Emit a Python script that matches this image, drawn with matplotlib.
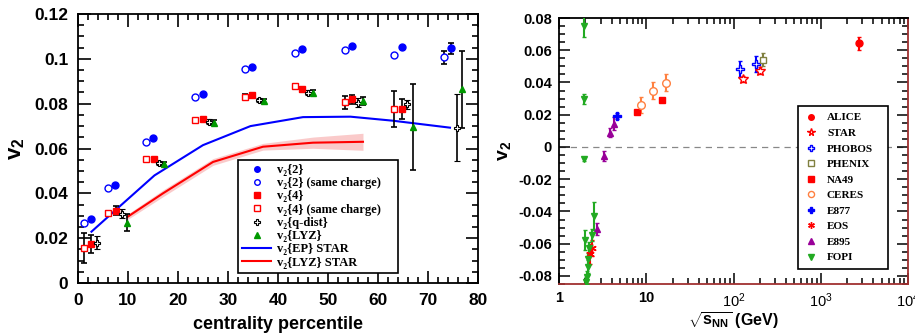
import matplotlib
matplotlib.use("Agg")
import matplotlib.pyplot as plt
from matplotlib.ticker import MultipleLocator, LogLocator, NullFormatter
import numpy as np

plt.rcParams.update({
    "font.family": "Liberation Sans",
    "mathtext.fontset": "custom",
    "mathtext.rm": "Liberation Sans",
    "mathtext.bf": "Liberation Sans:bold",
    "mathtext.it": "Liberation Sans:italic",
})

# ---- left panel: v2 vs centrality ----
cent_v22 = [2.7, 7.5, 15.0, 25.1, 34.9, 44.9, 54.9, 64.8, 74.7]
v22 = [0.0285, 0.0437, 0.0647, 0.0843, 0.0965, 0.1042, 0.1057, 0.1051, 0.1047]
v22_err = [0, 0, 0, 0, 0, 0, 0, 0, 0.0025]

cent_v22sc = [1.2, 6.1, 13.7, 23.4, 33.4, 43.4, 53.4, 63.3, 73.2]
v22sc = [0.0269, 0.0422, 0.0630, 0.0831, 0.0953, 0.1027, 0.1039, 0.1017, 0.1007]
v22sc_err = [0, 0, 0, 0, 0, 0, 0, 0, 0.003]

cent_v24 = [2.7, 7.7, 15.2, 25.1, 34.9, 44.9, 54.9, 64.9]
v24 = [0.0174, 0.0322, 0.0555, 0.0730, 0.0837, 0.0864, 0.0819, 0.0775]
v24_err = [0.004, 0.002, 0, 0, 0.001, 0.001, 0.0021, 0.0044]

cent_v24sc = [1.2, 6.0, 13.6, 23.4, 33.4, 43.4, 53.4, 63.3]
v24sc = [0.0155, 0.0311, 0.0555, 0.0727, 0.0831, 0.0879, 0.0806, 0.0775]
v24sc_err = [0.0067, 0.001, 0, 0, 0.001, 0.001, 0.0028, 0.0081]

cent_q = [3.9, 8.9, 16.3, 26.3, 36.2, 46.1, 56.1, 65.9, 75.9]
v2q = [0.0180, 0.0310, 0.0536, 0.0720, 0.0816, 0.0849, 0.0804, 0.0798, 0.0693]
v2q_err = [0.0028, 0.002, 0.001, 0.001, 0.001, 0.001, 0.002, 0.002, 0.0148]

cent_lyz = [9.9, 17.3, 27.3, 37.2, 47.1, 57.1, 67.1, 76.9]
v2lyz = [0.0269, 0.0530, 0.0715, 0.0813, 0.0849, 0.0812, 0.0694, 0.0864]
v2lyz_err = [0.0037, 0.001, 0.001, 0.001, 0.001, 0.002, 0.0192, 0.0171]

cent_ep_star = [2.7, 7.7, 15.3, 25.0, 34.5, 45.0, 54.5, 63.0, 74.4]
v2ep_star = [0.0229, 0.0329, 0.0480, 0.0615, 0.0700, 0.0740, 0.0742, 0.0724, 0.0693]

cent_lyz_star = [9.9, 17.0, 27.0, 37.0, 47.0, 57.0]
v2lyz_star = [0.0295, 0.0400, 0.0540, 0.0608, 0.0626, 0.0630]
v2lyz_star_band = [0.0012, 0.0015, 0.0015, 0.0015, 0.0025, 0.0038]

# ---- right panel: v2 vs sqrt(s_NN) ----
alice_s, alice_v, alice_e = [2760], [0.0643], [0.004]
star_s, star_v, star_e = [128, 199], [0.0422, 0.0473], [0.002, 0.002]
phobos_s, phobos_v, phobos_e = [118, 182], [0.0482, 0.0513], [0.005, 0.005]
phenix_s, phenix_v, phenix_e = [217], [0.0540], [0.004]
na49_s, na49_v, na49_e = [7.9, 15.2], [0.0219, 0.0291], [0.001, 0.001]
ceres_s, ceres_v, ceres_e = [8.7, 12.0, 16.8], [0.0260, 0.0349, 0.0399], [0.005, 0.0054, 0.0052]
e877_s, e877_v, e877_e = [4.65], [0.0192], [0.002]
eos_s, eos_v, eos_e = [2.28, 2.36], [-0.0665, -0.0625], [0.006, 0.005]
e895_s = [2.7, 3.3, 3.83, 4.25]
e895_v = [-0.0509, -0.0056, 0.0089, 0.0143]
e895_e = [0.004, 0.003, 0.003, 0.004]
fopi_s = [1.93, 1.93, 1.93, 1.98, 2.02, 2.07, 2.13, 2.17, 2.2, 2.36, 2.53]
fopi_v = [0.075, 0.0296, -0.0076, -0.0577, -0.0835, -0.0808, -0.0742,
          -0.0697, -0.0628, -0.0546, -0.0428]
fopi_e = [0.0065, 0.003, 0.001, 0.006, 0.003, 0.004, 0.004, 0.004, 0.004,
          0.004, 0.0088]

left_labels = ["v₂{2}", "v₂{2} (same charge)", "v₂{4}", "v₂{4} (same charge)",
               "v₂{q-dist}", "v₂{LYZ}", "v₂{EP} STAR", "v₂{LYZ} STAR"]

BLUE = "#0000ff"
RED = "#ff0000"
GREEN = "#009900"
LEG_FONT = ["Liberation Serif", "DejaVu Serif"]

fig = plt.figure(figsize=(9.15, 3.36), dpi=100)
ax = fig.add_axes([0.0852, 0.1577, 0.4372, 0.8006])
ax2 = fig.add_axes([0.611, 0.1548, 0.3813, 0.7916])

# left panel
ax.fill_between(cent_lyz_star,
                np.array(v2lyz_star) - np.array(v2lyz_star_band),
                np.array(v2lyz_star) + np.array(v2lyz_star_band),
                color="#f7a8a8", alpha=0.6, lw=0, zorder=1)
l_ep, = ax.plot(cent_ep_star, v2ep_star, color=BLUE, lw=1.5, zorder=2)
l_lyz, = ax.plot(cent_lyz_star, v2lyz_star, color=RED, lw=1.5, zorder=2)

eb = dict(ls="none", ecolor="black", elinewidth=1.2, capsize=2, capthick=1.2, ms=5, zorder=3)
h22 = ax.errorbar(cent_v22, v22, yerr=v22_err, marker="o", color=BLUE, **eb)
h22sc = ax.errorbar(cent_v22sc, v22sc, yerr=v22sc_err, marker="o", color=BLUE, mfc="white", **eb)
h24 = ax.errorbar(cent_v24, v24, yerr=v24_err, marker="s", color=RED, **eb)
h24sc = ax.errorbar(cent_v24sc, v24sc, yerr=v24sc_err, marker="s", color=RED, mfc="white", **eb)
hq = ax.errorbar(cent_q, v2q, yerr=v2q_err, marker="P", color="black", mfc="white", mew=0.8, **eb)
hlyz = ax.errorbar(cent_lyz, v2lyz, yerr=v2lyz_err, marker="^", color=GREEN, **eb)

leg = ax.legend([h22[0], h22sc[0], h24[0], h24sc[0], hq[0], hlyz[0], l_ep, l_lyz],
                left_labels,
                loc="lower left", bbox_to_anchor=(0.40, 0.037, 0.40, 0.43), mode="expand",
                borderaxespad=0,
                prop={"family": LEG_FONT, "weight": "bold", "size": 9},
                handlelength=2.3, labelspacing=0.1, borderpad=0.35, handletextpad=0.5,
                fancybox=False, edgecolor="black", framealpha=1, markerscale=0.8)
leg.get_frame().set_linewidth(1.2)

ax.set_xlim(0, 80)
ax.set_ylim(0, 0.12)
ax.xaxis.set_major_locator(MultipleLocator(10))
ax.xaxis.set_minor_locator(MultipleLocator(2))
ax.set_yticks([0, 0.02, 0.04, 0.06, 0.08, 0.1, 0.12],
              ["0", "0.02", "0.04", "0.06", "0.08", "0.1", "0.12"])
ax.yaxis.set_minor_locator(MultipleLocator(0.005))
ax.tick_params(which="both", direction="in", top=True, right=True, width=1.2)
ax.tick_params(which="major", length=9, labelsize=12.5, pad=7)
ax.tick_params(which="minor", length=4.5)
for lab in ax.get_xticklabels() + ax.get_yticklabels():
    lab.set_fontweight("bold")
for sp in ax.spines.values():
    sp.set_linewidth(1.3)
ax.set_xlabel("centrality percentile", fontsize=13, fontweight="bold", labelpad=6)
ax.set_ylabel(r"$\mathbf{v_2}$", fontsize=16, labelpad=5)

# right panel
ax2.axhline(0, color="#888888", ls=(0, (5, 4)), lw=0.9, zorder=1)
eb2 = dict(ls="none", elinewidth=1.5, capsize=1.5, zorder=3)
series = [
    ("ALICE", alice_s, alice_v, alice_e, "o", RED, RED, 5),
    ("STAR", star_s, star_v, star_e, "*", RED, "white", 7),
    ("PHOBOS", phobos_s, phobos_v, phobos_e, "P", BLUE, "white", 6),
    ("PHENIX", phenix_s, phenix_v, phenix_e, "s", "#808040", "white", 5),
    ("NA49", na49_s, na49_v, na49_e, "s", RED, RED, 5),
    ("CERES", ceres_s, ceres_v, ceres_e, "o", "#ff8040", "white", 5.5),
    ("E877", e877_s, e877_v, e877_e, "P", BLUE, BLUE, 6),
    ("EOS", eos_s, eos_v, eos_e, (6, 2, 0), RED, RED, 6),
    ("E895", e895_s, e895_v, e895_e, "^", "#990099", "#990099", 5),
    ("FOPI", fopi_s, fopi_v, fopi_e, "v", "#22aa22", "#22aa22", 5),
]
handles = []
for name, s, v, e, mk, col, fc, ms in series:
    h = ax2.errorbar(s, v, yerr=e, marker=mk, color=col, ecolor=col, mfc=fc, mec=col,
                     ms=ms, mew=1.0, **eb2)
    handles.append(h[0])
leg2 = ax2.legend(handles, [s[0] for s in series], loc="lower left",
                  bbox_to_anchor=(0.685, 0.056, 0.258, 0.602), mode="expand",
                  borderaxespad=0,
                  prop={"family": LEG_FONT, "weight": "bold", "size": 8},
                  labelspacing=0.52, borderpad=0.6, handlelength=1.2, handletextpad=0.8,
                  fancybox=False, edgecolor="black", framealpha=1, markerscale=0.8)
leg2.get_frame().set_linewidth(1.2)

ax2.set_xscale("log")
ax2.set_xlim(1, 1e4)
ax2.set_ylim(-0.085, 0.08)
ax2.set_xticks([1, 10, 100, 1000, 10000], ["1", "10", r"$10^2$", r"$10^3$", r"$10^4$"])
ax2.xaxis.set_minor_locator(LogLocator(base=10, subs=np.arange(2, 10), numticks=20))
ax2.xaxis.set_minor_formatter(NullFormatter())
ax2.set_yticks([-0.08, -0.06, -0.04, -0.02, 0, 0.02, 0.04, 0.06, 0.08],
               ["-0.08", "-0.06", "-0.04", "-0.02", "0", "0.02", "0.04", "0.06", "0.08"])
ax2.yaxis.set_minor_locator(MultipleLocator(0.005))
ax2.tick_params(which="both", direction="in", top=True, right=True, width=1.1)
ax2.tick_params(which="major", length=8, labelsize=10.5, pad=5)
ax2.tick_params(which="minor", length=4)
for lab in ax2.get_xticklabels() + ax2.get_yticklabels():
    lab.set_fontweight("bold")
for sp in ax2.spines.values():
    sp.set_linewidth(1.3)
ax2.spines["bottom"].set_color("#a03030")
ax2.spines["right"].set_color("#a03030")
ax2.set_xlabel(r"$\mathbf{\sqrt{s_{NN}}}$ (GeV)", fontsize=11.5, fontweight="bold", labelpad=1)
ax2.set_ylabel(r"$\mathbf{v_2}$", fontsize=14, labelpad=4)

fig.savefig("out.png", dpi=100, facecolor="white")
plt.close(fig)
